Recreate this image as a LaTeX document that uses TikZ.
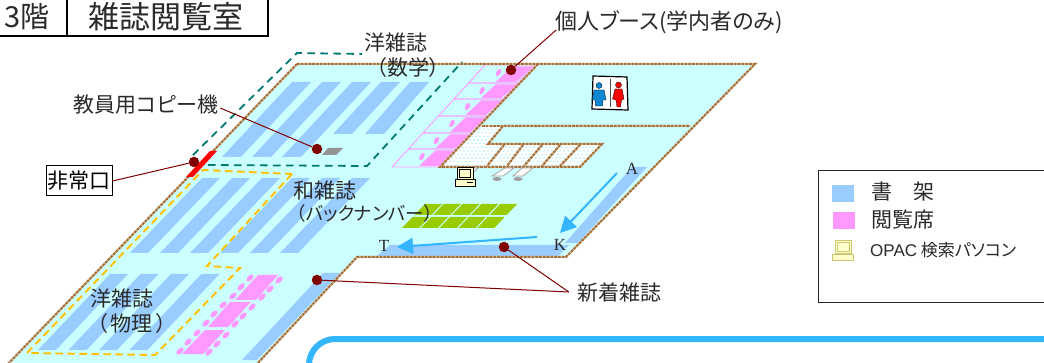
\documentclass[tikz,border=0pt]{standalone}
\usepackage{fontspec}
\setmainfont{Noto Sans CJK JP}[RawFeature=+palt]
\newfontfamily\latserif{Liberation Serif}
\newfontfamily\latsans{Liberation Sans}
\usetikzlibrary{arrows.meta,shapes.geometric}
\definecolor{floorc}{HTML}{CCFFFF}
\definecolor{shelfc}{HTML}{99CCFF}
\definecolor{seatc}{HTML}{FF99FF}
\definecolor{wallc}{HTML}{A5703A}
\definecolor{wallp}{HTML}{D8BE9C}
\definecolor{leadc}{HTML}{800000}
\definecolor{tealc}{HTML}{007A70}
\definecolor{orangec}{HTML}{FFC000}
\definecolor{framec}{HTML}{33B5FF}
\definecolor{greenc}{HTML}{99CC00}
\definecolor{pcc}{HTML}{FFFFCC}
\definecolor{textc}{HTML}{2A2A2A}
\definecolor{dotc}{HTML}{9FEDED}
\tikzset{
  x=1pt,y=-1pt,
  wallp/.style={draw=wallp,line width=2.2pt},
  walld/.style={draw=wallc,line width=2pt,dash pattern=on 2.6pt off 1.2pt},
  shelf/.style={fill=shelfc},
  seat/.style={fill=seatc},
  chair/.style={ellipse,fill=seatc,minimum width=9pt,minimum height=5pt,inner sep=0pt,rotate=45},
  lbl/.style={inner sep=0pt,text=textc,font=\fontsize{21}{21}\selectfont},
  leader/.style={draw=leadc,line width=1pt},
  pin/.style={circle,fill=leadc,minimum size=10.5pt,inner sep=0pt},
  tealdash/.style={draw=tealc,line width=1.8pt,dash pattern=on 7.5pt off 5.5pt},
  orangedash/.style={draw=orangec,line width=1.9pt,dash pattern=on 7.5pt off 4.5pt},
  bluearrow/.style={draw=framec,line width=2pt,-{Triangle[length=16pt,width=16pt]}},
  abc/.style={inner sep=0pt,text=textc,font=\latserif\fontsize{17}{17}\selectfont},
  cart/.style={draw=gray!70,fill=white,line width=.8pt},
}
\begin{document}
\begin{tikzpicture}
\useasboundingbox (0,0) rectangle (1044,363);
\clip (0,0) rectangle (1044,363);
\fill[white] (0,0) rectangle (1044,363);
% floor
\fill[floorc] (297,64) -- (755,64) -- (566,257) -- (357,257) -- (255,366) -- (6,366) -- cycle;
% shelves: upper group
\foreach \a/\b in {292/222,322/252,352/282}
  \fill[shelf] (\a,82) -- (\a+19,82) -- (\b+19,157) -- (\b,157) -- cycle;
\foreach \a/\b in {381/333,410/365}
  \fill[shelf] (\a,82) -- (\a+19,82) -- (\b+19,134) -- (\b,134) -- cycle;
% middle group
\foreach \i in {0,...,5}
  \fill[shelf] (202+30*\i,178) -- (220+30*\i,178) -- (148+30*\i,253) -- (130+30*\i,253) -- cycle;
% lower group
\foreach \i in {0,...,3}
  \fill[shelf] (110+30.5*\i,274) -- (128+30.5*\i,274) -- (56+30.5*\i,350) -- (38+30.5*\i,350) -- cycle;
% new magazine shelves
\fill[shelf] (323,273) -- (340,273) -- (257,360) -- (242,360) -- cycle;
\fill[shelf] (390,245) -- (569,245) -- (558,256) -- (377,256) -- cycle;
\fill[shelf] (632,167) -- (647,167) -- (578,243) -- (565,243) -- cycle;
% dotted rooms
\begin{scope}
\clip (482,126) -- (503,126) -- (488,144) -- (602,144) -- (580,166) -- (440,167) -- cycle;
\fill[white] (430,120) rectangle (610,170);
\foreach \c in {0,...,45} \foreach \r in {0,...,13}
  \fill[dotc] ({432+4*\c+2*mod(\r,2)},{122+3.6*\r}) circle (.8);
\end{scope}
% booths
\foreach \p/\q in {65/83,83/99,99/116,116/133,133/149,149/167}{
  \pgfmathsetmacro\xa{392+(167-\p)*.912}
  \pgfmathsetmacro\xb{392+(167-\q)*.912}
  \fill[seat] (\xa+27,\p+1.5) -- (\xa+47.5,\p+1.5) -- (\xb+47.5,\q-1) -- (\xb+27,\q-1) -- cycle;
  \draw[seatc,line width=.9pt] (\xa,\p) -- (\xa+49,\p) -- (\xb+49,\q) -- (\xb,\q) -- cycle;
  \pgfmathsetmacro\xc{\xa+13.5}
  \pgfmathsetmacro\yc{\p+7.5}
  \node[chair,minimum width=8pt,minimum height=4.5pt,rotate=15] (c\p) at (\xc,\yc) {};
}
% walls
\foreach \st in {wallp,walld}{
  \draw[\st] (297,64) -- (755,64) -- (566,257) -- (357,257) -- (255,366);
  \draw[\st] (297,64) -- (6,366);
  \draw[\st] (538,64) -- (440,167) -- (580,167) -- (602,144) -- (488,144) -- (503,126) -- (690,126);
  \draw[\st] (482,126) -- (503,126);
  \foreach \a/\b in {504/487,523/507,542/524,560/542,580/560}
    \draw[\st] (\a,145) -- (\b,166);
}
% tables
\fill[seat] (258,275) -- (278,275) -- (256,300) -- (235,300) -- cycle;
\fill[seat] (230,302) -- (251,302) -- (228,327) -- (208,327) -- cycle;
\fill[seat] (205,330) -- (225,330) -- (203,354) -- (182,354) -- cycle;
\foreach \dx/\dy/\n in {0/0/a,27/27/b,53/55/c}
  \foreach \x/\y/\m in {250/278/1,241/287/2,233/296/3,279/280/4,270/289/5,262/297/6}
    \node[chair] (t\n\m) at (\x-\dx,\y+\dy) {};
% green blocks
\foreach \i in {0,...,4}{
  \fill[greenc] (425+18.8*\i,204) -- (442+18.8*\i,204) -- (431.4+18.8*\i,215) -- (414.4+18.8*\i,215) -- cycle;
  \fill[greenc] (412.5+18.8*\i,217) -- (429.5+18.8*\i,217) -- (419+18.8*\i,228) -- (402+18.8*\i,228) -- cycle;
}
% carts and PC
\draw[cart] (468,168) -- (478,168) -- (470,176) -- (460,176) -- cycle;
\draw[cart] (505,168) -- (514,168) -- (503,176) -- (492,176) -- cycle;
\draw[cart] (522,168) -- (533,168) -- (523,176) -- (513,176) -- cycle;
\fill[gray!75] (497,179) ellipse [x radius=4.5,y radius=2];
\fill[gray!75] (518,179) ellipse [x radius=4.5,y radius=2];
\draw[black,fill=pcc,line width=.9pt] (457,167) rectangle (473,179);
\draw[black,fill=pcc,line width=.5pt] (459.5,169.5) rectangle (470.5,177);
\draw[black,fill=pcc,line width=.9pt] (455.5,179.5) rectangle (475,186);
\draw[black,line width=.9pt] (467,182) -- (473,182);
% toilet sign
\draw[black,fill=white,line width=1.2pt] (593,76) -- (627,77) -- (628,110) -- (592,109) -- cycle;
\draw[gray!60!black,line width=1pt] (610,79) -- (610,107);
\draw[black,fill=cyan!70!blue,line width=.3pt] (599,85.5) circle (3);
\draw[black,fill=cyan!70!blue,line width=.3pt] (594,90) -- (604,90) -- (606,100) -- (603,100) -- (602.5,106) -- (595.5,106) -- (595,100) -- (592,100) -- cycle;
\draw[black,fill=red,line width=.3pt] (618.5,85) circle (3);
\draw[black,fill=red,line width=.3pt] (615,89) -- (622,89) -- (624,99) -- (621.5,100) -- (620.5,107) -- (617,107) -- (616,100) -- (612.5,99) -- cycle;
% exit strip
\fill[red] (210,151) -- (217,151) -- (193,177) -- (186,177) -- cycle;
% dashed zones
\draw[tealdash] (193,155) -- (297,53) -- (362,54);
\draw[tealdash] (208,165) -- (367,166) -- (462,62);
\draw[orangedash] (292,174) -- (207,266) -- (240,268) -- (155,355) -- (27,353) -- (203,170) -- cycle;
% shelves arrows
\coordinate (aS) at (617,173);
\coordinate (aE) at (560,233);
\coordinate (tS) at (537,237);
\coordinate (tE) at (397,247);
\draw[bluearrow] (aS) -- (aE);
\draw[bluearrow] (tS) -- (tE);
\node[abc] (lA) at (632,169) {A};
\node[abc] (lK) at (560,245) {K};
\node[abc] (lT) at (384,246) {T};
% copier
\fill[gray!85] (328,148) -- (343,148) -- (336,155) -- (322,155) -- cycle;
% blue frame
\draw[framec,line width=6pt,rounded corners=26pt] (309,380) -- (309,339) -- (1060,339);
% title
\draw[black,line width=1.6pt] (-3,-3) rectangle (268,36);
\draw[black,line width=1.6pt] (67,-3) -- (67,36);
\node[lbl,font=\fontsize{29}{29}\selectfont] (t3) at (27,16.5) {3階};
\node[lbl,font=\fontsize{31}{31}\selectfont] (troom) at (166,16.5) {雑誌閲覧室};
% labels
\node[lbl] (lM) at (396,42) {洋雑誌};
\node[lbl] (lM2) at (408,68) {（数学）};
\node[lbl] (copy) at (146,105) {教員用コピー機};
\node[lbl] (lJ) at (325,190) {和雑誌};
\node[lbl,font=\fontsize{18.5}{18.5}\selectfont] (lJ2) at (365,213) {（バックナンバー）};
\node[lbl] (lP) at (122,298) {洋雑誌};
\node[lbl] (lP2) at (132,324) {（\,物理\,）};
\node[lbl,font=\fontsize{22}{22}\selectfont] (booth) at (669,22) {個人ブース(学内者のみ)};
\node[lbl] (news) at (619,293) {新着雑誌};
\node[lbl,draw=black,line width=1pt,text=black,minimum width=66pt,minimum height=30pt,fill=white] (exitl) at (79,181) {非常口};
% pins
\node[pin] (pcopy) at (317,149) {};
\node[pin] (pexit) at (194,162) {};
\node[pin] (pbooth) at (511,70) {};
\node[pin] (pnews1) at (504,247) {};
\node[pin] (pnews2) at (317,280) {};
\draw[leader] ([xshift=2pt,yshift=-3pt]copy.east) -- (pcopy);
\draw[leader] (exitl.east) -- (pexit);
\draw[leader] ([xshift=1pt,yshift=-8pt]booth.west) -- (pbooth);
\draw[leader] ([xshift=-8pt,yshift=1pt]news.west) -- (pnews1);
\draw[leader] ([xshift=-8pt,yshift=1pt]news.west) -- (pnews2);
% legend
\draw[black!85,line width=1pt,fill=white] (818,171) rectangle (1060,303);
\fill[shelfc] (832,185) rectangle (854,202);
\fill[seatc] (833,212) rectangle (855,229);
\node[lbl] (lg1) at (902.5,192) {書\hspace{1em}架};
\node[lbl] (lg2) at (902.5,220) {閲覧席};
\draw[olive!45,fill=pcc,line width=.6pt] (835,240) rectangle (851,253);
\draw[olive!45,fill=pcc,line width=.4pt] (837,242) rectangle (849,251);
\draw[olive!45,fill=pcc,line width=.6pt] (832,254) rectangle (853,260);
\node[lbl,anchor=west,font=\fontsize{17}{17}\selectfont] (lg3) at (870,250) {{\latsans OPAC} 検索パソコン};
\end{tikzpicture}
\end{document}
